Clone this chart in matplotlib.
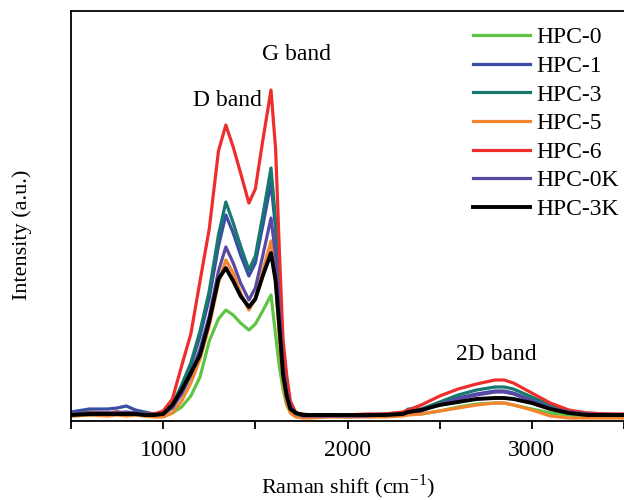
import matplotlib
matplotlib.use("Agg")
import matplotlib.pyplot as plt
from matplotlib.ticker import MultipleLocator

plt.rcParams['font.family'] = ['Liberation Serif', 'DejaVu Serif']
plt.rcParams['mathtext.fontset'] = 'custom'
plt.rcParams['mathtext.rm'] = 'Liberation Serif'

# Raman shift grid (cm^-1)
shift = [500, 600, 700, 750, 800, 850, 900, 950, 1000, 1050, 1100, 1150, 1200, 1250,
         1300, 1340, 1380, 1420, 1465, 1500, 1540, 1585, 1610, 1630, 1650, 1670, 1690,
         1720, 1760, 1800, 1900, 2000, 2100, 2200, 2300, 2330, 2400, 2500, 2600, 2700,
         2800, 2850, 2900, 3000, 3100, 3200, 3300, 3400, 3500]

hpc0 = [5, 6, 6, 7, 6, 6, 5, 5, 5, 8, 14, 25, 44, 80,
        102, 111, 106, 98, 91, 97, 110, 126, 86, 55, 32, 16, 9,
        6, 5, 5, 5, 4, 5, 5, 6, 7, 7, 10, 14, 17,
        18, 18, 16, 12, 8, 6, 5, 5, 5]
hpc1 = [9, 12, 12, 13, 15, 11, 9, 7, 8, 15, 32, 55, 85, 123,
        175, 206, 188, 166, 145, 158, 195, 238, 192, 130, 62, 33, 16,
        8, 6, 6, 6, 5, 6, 6, 7, 9, 11, 17, 23, 27,
        30, 30, 28, 21, 14, 9, 7, 6, 6]
hpc3 = [7, 9, 8, 9, 8, 9, 8, 7, 8, 16, 36, 58, 90, 130,
        186, 219, 198, 175, 151, 165, 205, 253, 200, 135, 65, 35, 17,
        8, 6, 6, 6, 5, 6, 7, 8, 12, 12, 19, 26, 31,
        34, 34, 32, 24, 16, 10, 8, 7, 6]
hpc5 = [5, 6, 5, 6, 5, 6, 5, 4, 4, 8, 20, 38, 62, 95,
        138, 161, 148, 128, 111, 122, 150, 180, 140, 85, 40, 18, 8,
        4, 3, 3, 4, 4, 4, 4, 5, 6, 7, 10, 13, 16,
        18, 18, 16, 11, 5, 3, 3, 3, 3]
hpc6 = [7, 8, 8, 9, 8, 8, 7, 7, 10, 22, 55, 87, 140, 192,
        270, 296, 274, 248, 218, 232, 280, 331, 272, 172, 82, 46, 20,
        8, 7, 6, 6, 6, 7, 7, 9, 11, 16, 25, 32, 37,
        41, 41, 38, 28, 18, 11, 8, 7, 7]
hpc0k = [8, 7, 8, 8, 9, 8, 7, 6, 7, 13, 27, 46, 72, 105,
         150, 174, 158, 138, 121, 133, 165, 203, 165, 112, 55, 30, 15,
         7, 5, 5, 5, 5, 5, 6, 7, 9, 10, 17, 22, 26,
         29, 29, 27, 20, 13, 9, 7, 6, 6]
hpc3k = [6, 7, 7, 7, 7, 7, 6, 6, 7, 16, 31, 48, 66, 100,
         142, 153, 140, 125, 114, 122, 145, 168, 140, 95, 47, 25, 12,
         8, 6, 6, 6, 6, 6, 6, 7, 9, 11, 16, 19, 22,
         23, 23, 22, 18, 12, 8, 6, 6, 6]

labels = ['HPC-0', 'HPC-1', 'HPC-3', 'HPC-5', 'HPC-6', 'HPC-0K', 'HPC-3K']
series = [hpc0, hpc1, hpc3, hpc5, hpc6, hpc0k, hpc3k]
colors = ['#5fc443', '#3a4ea6', '#17786e', '#f5842e', '#ee2d2d', '#5a48a3', '#000000']

fig = plt.figure(figsize=(6.24, 5.0), dpi=100)
ax = fig.add_axes([71/624, 1-421/500, 1-71/624, 410/500])

for y, lab, c in zip(series, labels, colors):
    lw = 2.8 if c == '#000000' else 2.3
    ax.plot(shift, y, color=c, lw=lw, label=lab)

ax.set_xlim(500, 3500)
ax.set_ylim(0, 410)
ax.xaxis.set_major_locator(MultipleLocator(1000))
ax.xaxis.set_minor_locator(MultipleLocator(500))
ax.set_yticks([])
ax.tick_params(axis='x', which='both', direction='out', length=6, width=1.3,
               labelsize=17, pad=8)
ax.tick_params(axis='x', which='minor', labelbottom=False)
ax.spines['right'].set_visible(False)
for s in ['left', 'top', 'bottom']:
    ax.spines[s].set_linewidth(1.3)

ax.set_xlabel('Raman shift (cm$^{-1}$)', fontsize=16)
ax.xaxis.set_label_coords(0.5011, -0.126)
ax.set_ylabel('Intensity (a.u.)', fontsize=16)
ax.yaxis.set_label_coords(-0.0705, 0.454)

ax.text(1723, 366, 'G band', fontsize=17, ha='center', va='center')
ax.text(1349, 321, 'D band', fontsize=17, ha='center', va='center')
ax.text(2807, 67, '2D band', fontsize=17, ha='center', va='center')

ax.legend(loc='upper right', bbox_to_anchor=(1.0 + 7/553, 1.0 - 4/410), frameon=False,
          fontsize=17, handlelength=2.4, handletextpad=0.3, labelspacing=0.30,
          borderaxespad=0.1)

fig.savefig('out.png', dpi=100)
